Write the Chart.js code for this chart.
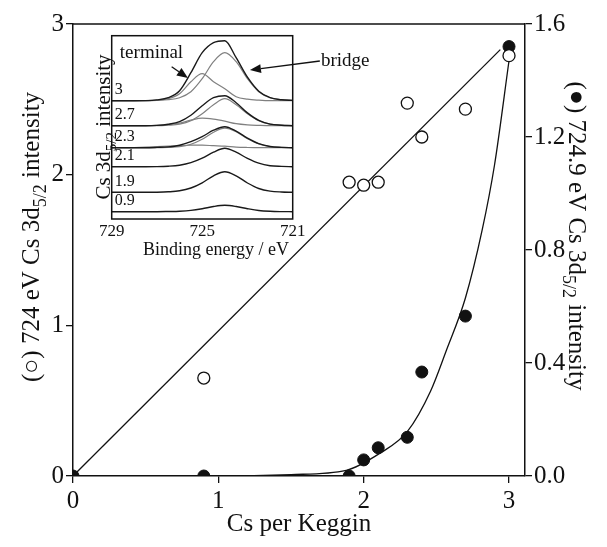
<!DOCTYPE html>
<html><head><meta charset="utf-8">
<script src="https://cdn.jsdelivr.net/npm/chart.js@4"></script>
<style>
html,body{margin:0;padding:0;background:#fff;}
#wrap{position:relative;width:607px;height:547px;overflow:hidden;}
#main{position:absolute;left:0;top:0;}
#inset{position:absolute;left:88px;top:28px;}
</style></head><body>
<div id="wrap">
<canvas id="main" width="607" height="547"></canvas>
<canvas id="inset" width="290" height="234"></canvas>
</div>
<script>
// ---------- main plot data ----------
const openX   = [0.9, 1.9, 2.0, 2.1, 2.3, 2.4, 2.7, 3.0];
const openY   = [0.65, 1.95, 1.93, 1.95, 2.475, 2.25, 2.435, 2.79];      // left axis (724 eV)
const filledX = [0, 0.9, 1.9, 2.0, 2.1, 2.3, 2.4, 2.7, 3.0];
const filledY = [0, 0, 0, 0.057, 0.10, 0.137, 0.368, 0.566, 1.52];     // right axis (724.9 eV)
const lineFitX = [0, 2.94];
const lineFitY = [0, 2.83];
const curveFitX = [0, 1.0, 1.5, 1.88, 2.11, 2.3, 2.46, 2.57, 2.7, 2.815, 2.9, 3.0];
const curveFitY = [0, 0, 0.005, 0.02, 0.08, 0.157, 0.30, 0.446, 0.63, 0.87, 1.1, 1.47];
const xTicks = [0, 1, 2, 3];
const yLeftTicks = [0, 1, 2, 3];
const yRightTicks = [0, 0.4, 0.8, 1.2, 1.6];

// ---------- inset data ----------
const energies = [729,728.5,728,727.5,727,726.5,726,725.5,725,724.5,724,723.5,723,722.5,722,721.5,721];
const energyTicks = [729, 725, 721];
const panelLabels  = ['3', '2.7', '2.3', '2.1', '1.9', '0.9'];
const panelOffsets = [118.3, 93.3, 71.3, 52.3, 26.7, 7.3];
const env3    = [0,0,0,0.1,0.8,3,10,28,48,58,60,43,23.5,9.5,3,1,0.3];
const bridge3 = [0,0,0,0,0.3,1,3,9,22,39,48,39,22,9,3,1,0.3];
const term3   = [0,0,0,0.1,0.5,2,7,19,27,19,12,4,1.5,0.5,0,0,0];
const env27    = [0,0,0,0,0.3,1.5,4.1,10.5,20,28,30,23,12.8,5.3,1.6,0.5,0];
const bridge27 = [0,0,0,0,0,0.5,1.6,5,12,21,27,21,12,5,1.6,0.5,0];
const term27   = [0,0,0,0,0.3,1,2.5,5.5,7.5,6.5,4.5,2,0.8,0.3,0,0,0];
const env23    = [0,0,0,0,0.3,0.8,2.5,6,11,17.5,21,16.5,9.5,4,1.2,0.3,0];
const bridge23 = [0,0,0,0,0,0.3,1,3.5,8.5,15.5,19.5,16,9,3.8,1.2,0.3,0];
const term23   = [0,0,0.2,0.5,1,1.5,2,2.5,2.5,2,1.5,0.6,0.2,0,0,0,0];
const env21 = [0,0,0,0,0.1,0.5,1.5,4,8.5,14.5,18.4,14.5,8.3,3.5,1,0.3,0];
const env19 = [0,0,0,0,0.1,0.5,1.5,4.3,9.5,16.5,20.6,16.5,9.3,3.8,1.2,0.3,0];
const env09 = [0,0,0,0,0,0.2,0.5,1.3,3,5.2,6.4,5.2,3,1.2,0.4,0.1,0];

const serif = '"Liberation Serif", "DejaVu Serif", serif';
const black = '#111';
function pts(xs, ys) { return xs.map((x, i) => ({ x: x, y: ys[i] })); }

function drawRich(ctx, segs, cx, cy, angle, size, align) {
  ctx.save();
  ctx.translate(cx, cy);
  ctx.rotate(angle);
  ctx.fillStyle = black;
  ctx.textBaseline = 'alphabetic';
  ctx.textAlign = 'left';
  const subSize = Math.round(size * 0.72);
  let total = 0;
  const ws = segs.map(s => {
    ctx.font = (s.sub ? subSize : size) + 'px ' + serif;
    const w = ctx.measureText(s.t).width;
    total += w;
    return w;
  });
  let x = align === 'left' ? 0 : -total / 2;
  segs.forEach((s, i) => {
    ctx.font = (s.sub ? subSize : size) + 'px ' + serif;
    ctx.fillText(s.t, x, s.sub ? size * 0.35 + size * 0.27 : size * 0.35);
    x += ws[i];
  });
  ctx.restore();
}

function arrow(ctx, x1, y1, x2, y2) {
  ctx.save();
  ctx.strokeStyle = black; ctx.fillStyle = black; ctx.lineWidth = 1.3;
  const ang = Math.atan2(y2 - y1, x2 - x1);
  const L = 11, W = 4.5;
  const bx = x2 - L * Math.cos(ang), by = y2 - L * Math.sin(ang);
  ctx.beginPath(); ctx.moveTo(x1, y1); ctx.lineTo(bx, by); ctx.stroke();
  ctx.beginPath();
  ctx.moveTo(x2, y2);
  ctx.lineTo(bx + W * Math.sin(ang), by - W * Math.cos(ang));
  ctx.lineTo(bx - W * Math.sin(ang), by + W * Math.cos(ang));
  ctx.closePath(); ctx.fill();
  ctx.restore();
}

// ---------- main chart ----------
const tickGrid = { display: true, drawOnChartArea: false, drawTicks: true, tickLength: 7, color: black, lineWidth: 1.3 };
const tickBorder = { display: true, color: black, width: 1.5 };
const tickFont = { family: serif, size: 25 };

const mainPlugin = {
  id: 'mainDeco',
  afterDatasetsDraw(chart) {
    const { ctx, chartArea: a } = chart;
    ctx.save();
    ctx.strokeStyle = black; ctx.lineWidth = 1.5;
    ctx.beginPath(); ctx.moveTo(a.left, a.top); ctx.lineTo(a.right, a.top); ctx.stroke();
    ctx.restore();
  },
  afterDraw(chart) {
    const ctx = chart.ctx;
    drawRich(ctx, [{ t: '(\u25CB) 724 eV Cs 3d' }, { t: '5/2', sub: true }, { t: ' intensity' }], 30, 237, -Math.PI / 2, 25);
    drawRich(ctx, [{ t: '(\u25CF) 724.9 eV Cs 3d' }, { t: '5/2', sub: true }, { t: ' intensity' }], 578, 236, Math.PI / 2, 25);
    drawRich(ctx, [{ t: 'Cs per Keggin' }], 299, 522, 0, 25);
  }
};

new Chart(document.getElementById('main'), {
  type: 'scatter',
  data: {
    datasets: [
      { data: pts(openX, openY), yAxisID: 'yL', showLine: false, pointRadius: 6, pointBackgroundColor: '#fff', pointBorderColor: black, pointBorderWidth: 1.3 },
      { data: pts(filledX, filledY), yAxisID: 'yR', showLine: false, pointRadius: 6, pointBackgroundColor: black, pointBorderColor: black, pointBorderWidth: 1, clip: 0 },
      { data: pts(curveFitX, curveFitY), yAxisID: 'yR', showLine: true, pointRadius: 0, borderColor: black, borderWidth: 1.3, cubicInterpolationMode: 'monotone' },
      { data: pts(lineFitX, lineFitY), yAxisID: 'yL', showLine: true, pointRadius: 0, borderColor: black, borderWidth: 1.3 }
    ]
  },
  options: {
    responsive: false, animation: false, devicePixelRatio: 1,
    layout: { padding: { top: 24, left: 0, right: 0, bottom: 0 } },
    plugins: { legend: { display: false }, tooltip: { enabled: false } },
    scales: {
      x: {
        type: 'linear', position: 'bottom', min: 0, max: 3.11,
        afterBuildTicks: s => { s.ticks = xTicks.map(v => ({ value: v })); },
        afterFit: s => { s.height = 71; },
        ticks: { color: black, font: tickFont, padding: 3, maxRotation: 0, callback: v => String(v) },
        grid: tickGrid, border: tickBorder
      },
      yL: {
        type: 'linear', position: 'left', min: 0, max: 3,
        afterBuildTicks: s => { s.ticks = yLeftTicks.map(v => ({ value: v })); },
        afterFit: s => { s.width = 73; },
        ticks: { color: black, font: tickFont, padding: 2, callback: v => String(v) },
        grid: tickGrid, border: tickBorder
      },
      yR: {
        type: 'linear', position: 'right', min: 0, max: 1.6,
        afterBuildTicks: s => { s.ticks = yRightTicks.map(v => ({ value: v })); },
        afterFit: s => { s.width = 82; },
        ticks: { color: black, font: tickFont, padding: 2, callback: v => Number(v).toFixed(1) },
        grid: tickGrid, border: tickBorder
      }
    }
  },
  plugins: [mainPlugin]
});

// ---------- inset chart ----------
const panels = [
  { label: panelLabels[0], offset: panelOffsets[0], env: env3,  comps: [term3, bridge3] },
  { label: panelLabels[1], offset: panelOffsets[1], env: env27, comps: [term27, bridge27] },
  { label: panelLabels[2], offset: panelOffsets[2], env: env23, comps: [term23, bridge23] },
  { label: panelLabels[3], offset: panelOffsets[3], env: env21, comps: [] },
  { label: panelLabels[4], offset: panelOffsets[4], env: env19, comps: [] },
  { label: panelLabels[5], offset: panelOffsets[5], env: env09, comps: [] }
];
const insetSets = [];
panels.forEach(p => {
  insetSets.push({ data: energies.map((e, i) => ({ x: e, y: p.offset + p.env[i] })), showLine: true, pointRadius: 0,
    borderColor: '#1a1a1a', borderWidth: 1.4, cubicInterpolationMode: 'monotone' });
  p.comps.forEach(c => insetSets.push({ data: energies.map((e, i) => ({ x: e, y: p.offset + c[i] })), showLine: true, pointRadius: 0,
    borderColor: '#808080', borderWidth: 1.2, cubicInterpolationMode: 'monotone' }));
});

const insetPlugin = {
  id: 'insetDeco',
  beforeDatasetsDraw(chart) {
    const { ctx, chartArea: a } = chart;
    ctx.save(); ctx.fillStyle = '#fff'; ctx.fillRect(a.left, a.top, a.right - a.left, a.bottom - a.top); ctx.restore();
  },
  afterDraw(chart) {
    const { ctx, chartArea: a, scales } = chart;
    const xs = scales.x, ys = scales.y;
    ctx.save();
    ctx.strokeStyle = black; ctx.lineWidth = 1.5;
    ctx.strokeRect(a.left, a.top, a.right - a.left, a.bottom - a.top);
    ctx.fillStyle = black; ctx.textAlign = 'left'; ctx.textBaseline = 'middle';
    ctx.font = '16px ' + serif;
    panels.forEach(p => { ctx.fillText(p.label, a.left + 3, ys.getPixelForValue(p.offset) - 11); });
    ctx.font = '19px ' + serif;
    ctx.fillText('terminal', xs.getPixelForValue(728.64), ys.getPixelForValue(166));
    ctx.fillText('bridge', xs.getPixelForValue(719.75), ys.getPixelForValue(158));
    ctx.restore();
    arrow(ctx, xs.getPixelForValue(726.35), ys.getPixelForValue(152.3), xs.getPixelForValue(725.63), ys.getPixelForValue(141));
    arrow(ctx, xs.getPixelForValue(719.8), ys.getPixelForValue(158), xs.getPixelForValue(722.89), ys.getPixelForValue(149));
    drawRich(ctx, [{ t: 'Cs 3d' }, { t: '5/2', sub: true }, { t: ' intensity' }], 15, 99, -Math.PI / 2, 21);
    drawRich(ctx, [{ t: 'Binding energy / eV' }], 128, 221, 0, 18);
  }
};

new Chart(document.getElementById('inset'), {
  type: 'scatter',
  data: { datasets: insetSets },
  options: {
    responsive: false, animation: false, devicePixelRatio: 1,
    layout: { padding: { top: 7.7, left: 23.7, right: 85.3, bottom: 0 } },
    plugins: { legend: { display: false }, tooltip: { enabled: false } },
    scales: {
      x: {
        type: 'linear', min: 721, max: 729, reverse: true,
        afterBuildTicks: s => { s.ticks = energyTicks.map(v => ({ value: v })); },
        afterFit: s => { s.height = 43; },
        ticks: { color: black, font: { family: serif, size: 17 }, padding: 2, maxRotation: 0, callback: v => String(v) },
        grid: { display: false, drawTicks: false }, border: { display: false }
      },
      y: { type: 'linear', min: 0, max: 183.3, display: false }
    }
  },
  plugins: [insetPlugin]
});
</script>
</body></html>
